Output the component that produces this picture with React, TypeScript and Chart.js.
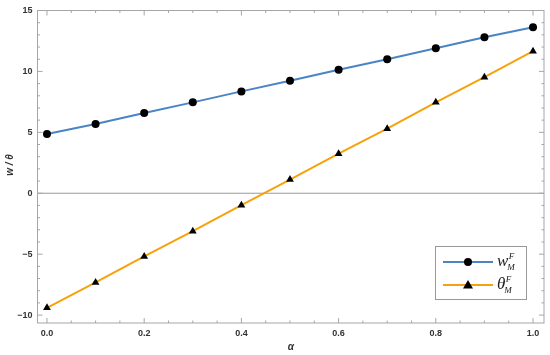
import React, { useEffect, useRef } from "react";
import { Chart, registerables } from "chart.js";

Chart.register(...registerables);

const alphaValues = [0, 0.1, 0.2, 0.3, 0.4, 0.5, 0.6, 0.7, 0.8, 0.9, 1.0];
const wValues = [4.86, 5.68, 6.58, 7.46, 8.36, 9.24, 10.14, 11.0, 11.9, 12.8, 13.63];
const thetaValues = [-9.4, -7.32, -5.19, -3.11, -0.98, 1.12, 3.25, 5.3, 7.46, 9.53, 11.66];
const xTicks = [0, 0.2, 0.4, 0.6, 0.8, 1.0];
const yTicks = [-10, -5, 0, 5, 10, 15];
const seriesBase = ["w", "\u03B8"];
const seriesSup = ["F", "F"];
const seriesSub = ["M", "M"];
const xTitle = "\u03B1";
const yTitle = "w / \u03B8";

const BLUE = "#4a84c4";
const ORANGE = "#f7a10c";
const FRAME = "#a6a6a6";

const decorPlugin = {
  id: "decor",
  beforeDatasetsDraw(chart: any) {
    const { ctx, chartArea: a, scales } = chart;
    const xs = scales.x;
    const ys = scales.y;
    ctx.save();
    // zero line
    ctx.strokeStyle = "#9a9a9a";
    ctx.lineWidth = 1;
    const y0 = ys.getPixelForValue(0);
    ctx.beginPath();
    ctx.moveTo(a.left, y0);
    ctx.lineTo(a.right, y0);
    ctx.stroke();
    // frame
    ctx.strokeStyle = FRAME;
    ctx.strokeRect(a.left, a.top, a.right - a.left, a.bottom - a.top);
    // x ticks (inside)
    for (let i = 0; i <= 20; i++) {
      const v = i * 0.05;
      const major = i % 4 === 0;
      const len = major ? 5 : 2.5;
      const px = xs.getPixelForValue(v);
      ctx.beginPath();
      ctx.moveTo(px, a.bottom);
      ctx.lineTo(px, a.bottom - len);
      ctx.moveTo(px, a.top);
      ctx.lineTo(px, a.top + len);
      ctx.stroke();
    }
    // y ticks (inside)
    for (let v = -10; v <= 15; v++) {
      const major = v % 5 === 0;
      const len = major ? 5 : 2.5;
      const py = ys.getPixelForValue(v);
      ctx.beginPath();
      ctx.moveTo(a.left, py);
      ctx.lineTo(a.left + len, py);
      ctx.moveTo(a.right, py);
      ctx.lineTo(a.right - len, py);
      ctx.stroke();
    }
    ctx.restore();
  },
  afterDraw(chart: any) {
    const { ctx, chartArea: a } = chart;
    ctx.save();
    // axis titles
    ctx.fillStyle = "#333";
    ctx.font = "italic bold 10px 'Liberation Sans'";
    ctx.textAlign = "center";
    ctx.textBaseline = "middle";
    ctx.fillText(xTitle, (a.left + a.right) / 2, 347);
    ctx.translate(10, 165);
    ctx.rotate(-Math.PI / 2);
    ctx.fillText(yTitle, 0, 0);
    ctx.restore();

    // legend
    ctx.save();
    const bx = 435, by = 246, bw = 91, bh = 53;
    ctx.fillStyle = "#fff";
    ctx.fillRect(bx, by, bw, bh);
    ctx.strokeStyle = "#999";
    ctx.lineWidth = 1;
    ctx.strokeRect(bx + 0.5, by + 0.5, bw, bh);
    const rows = [262, 285];
    const colors = [BLUE, ORANGE];
    rows.forEach((ry, i) => {
      ctx.strokeStyle = colors[i];
      ctx.lineWidth = 2;
      ctx.beginPath();
      ctx.moveTo(443, ry);
      ctx.lineTo(493, ry);
      ctx.stroke();
      ctx.fillStyle = "#000";
      ctx.beginPath();
      if (i === 0) {
        ctx.arc(468, ry, 4, 0, Math.PI * 2);
      } else {
        ctx.moveTo(468, ry - 5);
        ctx.lineTo(473, ry + 3.5);
        ctx.lineTo(463, ry + 3.5);
        ctx.closePath();
      }
      ctx.fill();
      ctx.fillStyle = "#222";
      ctx.textAlign = "left";
      ctx.textBaseline = "alphabetic";
      ctx.font = "italic 17px 'Liberation Serif'";
      const base = ry + 4;
      ctx.fillText(seriesBase[i], 497, base);
      const wBase = ctx.measureText(seriesBase[i]).width;
      ctx.font = "italic 9px 'Liberation Serif'";
      ctx.fillText(seriesSup[i], 497 + wBase + 0.5, base - 7);
      ctx.fillText(seriesSub[i], 497 + wBase - 1, base + 4);
    });
    ctx.restore();
  },
};

export default function App() {
  const ref = useRef<HTMLCanvasElement | null>(null);
  useEffect(() => {
    if (!ref.current) return;
    const tickFont = { family: "'Liberation Sans'", size: 9, weight: "bold" as const };
    const chart = new Chart(ref.current, {
      type: "line",
      data: {
        datasets: [
          {
            label: "w",
            data: alphaValues.map((x, i) => ({ x, y: wValues[i] })),
            borderColor: BLUE,
            backgroundColor: "#000",
            borderWidth: 2,
            pointStyle: "circle",
            pointRadius: 4,
            pointBorderWidth: 0,
            pointBackgroundColor: "#000",
            tension: 0,
          },
          {
            label: "theta",
            data: alphaValues.map((x, i) => ({ x, y: thetaValues[i] })),
            borderColor: ORANGE,
            backgroundColor: "#000",
            borderWidth: 2,
            pointStyle: "triangle",
            pointRadius: 4.5,
            pointBorderWidth: 0,
            pointBackgroundColor: "#000",
            tension: 0,
          },
        ],
      },
      options: {
        animation: false,
        responsive: true,
        maintainAspectRatio: false,
        layout: { padding: { top: 10.5, right: 6, left: 0, bottom: 0 } },
        plugins: { legend: { display: false }, tooltip: { enabled: false } },
        scales: {
          x: {
            type: "linear",
            min: -0.0195,
            max: 1.0226,
            afterBuildTicks: (s: any) => {
              s.ticks = xTicks.map((v) => ({ value: v }));
            },
            afterFit: (s: any) => {
              s.height = 32;
            },
            grid: { display: false, drawTicks: false },
            border: { display: false },
            ticks: {
              font: tickFont,
              color: "#333",
              padding: 5,
              maxRotation: 0,
              autoSkip: false,
              callback: (v: any) => Number(v).toFixed(1),
            },
          },
          y: {
            type: "linear",
            min: -10.65,
            max: 15,
            afterBuildTicks: (s: any) => {
              s.ticks = yTicks.map((v) => ({ value: v }));
            },
            afterFit: (s: any) => {
              s.width = 37.5;
            },
            grid: { display: false, drawTicks: false },
            border: { display: false },
            ticks: {
              font: tickFont,
              color: "#333",
              padding: 5,
              autoSkip: false,
              callback: (v: any) => (Number(v) < 0 ? "\u2212" + Math.abs(Number(v)) : String(v)),
            },
          },
        },
      },
      plugins: [decorPlugin],
    });
    return () => chart.destroy();
  }, []);
  return (
    <div style={{ position: "fixed", left: 0, top: 0, width: 550, height: 355, background: "#fff" }}>
      <canvas ref={ref} />
    </div>
  );
}
